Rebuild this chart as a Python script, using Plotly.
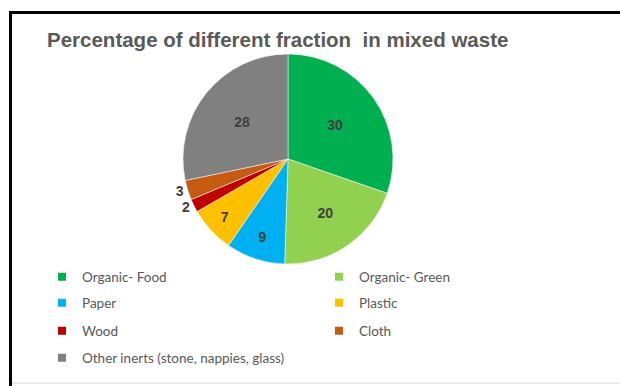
import plotly.graph_objects as go

# Composition of mixed waste (%)
categories = ["Organic- Food", "Organic- Green", "Paper", "Plastic",
              "Wood", "Cloth", "Other inerts (stone, nappies, glass)"]
percentages = [30, 20, 9, 7, 2, 3, 28]
colors = ["#00B050", "#92D050", "#00B0F0", "#FFC000",
          "#C00000", "#C55A11", "#808080"]
label_positions = ["inside", "inside", "inside", "inside",
                   "outside", "outside", "inside"]

W, H = 620, 386
TEXT_GRAY = "#595959"
LABEL_GRAY = "#404040"

fig = go.Figure()

# Pie: starts at 12 o'clock, runs clockwise, keeps the given order
cx, cy, r = 288, 159, 105
fig.add_trace(go.Pie(
    labels=categories,
    values=percentages,
    marker=dict(colors=colors, line=dict(color="white", width=0.5)),
    sort=False,
    direction="clockwise",
    rotation=0,
    textinfo="value",
    textposition=label_positions,
    insidetextorientation="horizontal",
    textfont=dict(family="Liberation Sans", size=14, color=LABEL_GRAY, weight="bold"),
    showlegend=False,
    hoverinfo="label+value",
    domain=dict(x=[(cx - r) / W, (cx + r) / W],
                y=[1 - (cy + r) / H, 1 - (cy - r) / H]),
))

# Legend: two columns, four rows; one legend per row
legend_names = ["legend", "legend2", "legend3", "legend4"]
row_y = [277, 303, 331, 358]
for i, (name, color) in enumerate(zip(categories, colors)):
    fig.add_trace(go.Scatter(
        x=[None], y=[None], mode="markers", name=name,
        marker=dict(symbol="square", size=8, color=color),
        legend=legend_names[i // 2], hoverinfo="skip",
    ))

# entrywidth excludes the symbol area; columns end up ~277 px apart
legend_style = dict(
    orientation="h", entrywidth=232, entrywidthmode="pixels",
    xanchor="left", yanchor="middle",
    x=42 / W, bgcolor="rgba(0,0,0,0)",
    font=dict(family="Lato", size=13.5, color=TEXT_GRAY),
    itemclick=False, itemdoubleclick=False,
)
legends = {}
for name, y in zip(legend_names, row_y):
    legends[name] = dict(legend_style, y=1 - y / H)

fig.update_layout(
    width=W, height=H,
    margin=dict(l=0, r=0, t=0, b=0, autoexpand=False),
    paper_bgcolor="white", plot_bgcolor="white",
    xaxis=dict(visible=False), yaxis=dict(visible=False),
    title=dict(
        text="Percentage of different fraction  in mixed waste",
        font=dict(family="Liberation Sans", size=20.5, color=TEXT_GRAY, weight="bold"),
        xref="container", yref="container",
        x=47 / W, xanchor="left", y=1 - 40 / H, yanchor="middle",
    ),
    shapes=[
        # frame: top and left edges, faint bottom edge
        dict(type="line", xref="paper", yref="paper",
             x0=9 / W, x1=1, y0=1 - 12.5 / H, y1=1 - 12.5 / H,
             line=dict(color="black", width=3)),
        dict(type="line", xref="paper", yref="paper",
             x0=10.5 / W, x1=10.5 / W, y0=0, y1=1 - 11 / H,
             line=dict(color="black", width=3)),
        dict(type="line", xref="paper", yref="paper",
             x0=12 / W, x1=1, y0=1 - 383 / H, y1=1 - 383 / H,
             line=dict(color="#ECECEC", width=2)),
    ],
    **legends,
)

fig.write_html("out.html")
